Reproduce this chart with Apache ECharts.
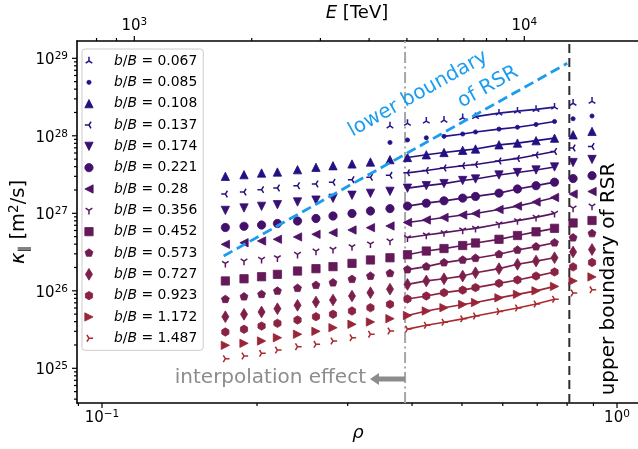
<!DOCTYPE html>
<html><head><meta charset="utf-8">
<script src="https://cdn.jsdelivr.net/npm/echarts/dist/echarts.min.js"></script>
<style>html,body{margin:0;padding:0;background:#fff}#c{width:638px;height:449px}</style>
</head><body><div id="c"></div>
<script>
// ---------------- data ----------------
const rho = [0.1736,0.1887,0.2041,0.2191,0.2397,0.2603,0.2809,0.3058,0.3321,0.3624,0.3919,0.4263,0.4614,0.5016,0.5312,0.5900,0.6408,0.6963,0.7563,0.8217,0.8943];
const bOverB = ['0.067','0.085','0.108','0.137','0.174','0.221','0.28','0.356','0.452','0.573','0.727','0.923','1.172','1.487'];
const N = null;
const kappa_0067 = [N,N,N,N,N,N,N,N,N,1.34e28,1.45e28,1.55e28,1.59e28,1.71e28,1.77e28,1.96e28,2.08e28,2.19e28,2.35e28,2.63e28,2.79e28];
const kappa_0085 = [N,N,N,N,N,N,N,N,N,8.20e27,8.83e27,9.42e27,9.85e27,1.055e28,1.12e28,1.22e28,1.29e28,1.40e28,1.53e28,1.66e28,1.80e28];
const kappa_0108 = [3.00e27,3.15e27,3.31e27,3.41e27,3.65e27,3.92e27,4.11e27,4.33e27,4.59e27,4.92e27,5.25e27,5.69e27,6.09e27,6.50e27,6.76e27,7.65e27,8.05e27,8.65e27,9.31e27,1.03e28,1.14e28];
const kappa_0137 = [1.77e27,1.88e27,2.02e27,2.12e27,2.27e27,2.39e27,2.51e27,2.71e27,2.91e27,3.09e27,3.33e27,3.57e27,3.84e27,4.11e27,4.26e27,4.73e27,5.10e27,5.65e27,6.27e27,6.96e27,7.28e27];
const kappa_0174 = [1.09e27,1.17e27,1.23e27,1.29e27,1.40e27,1.48e27,1.56e27,1.71e27,1.81e27,1.92e27,2.11e27,2.27e27,2.42e27,2.65e27,2.77e27,3.12e27,3.36e27,3.62e27,3.96e27,4.52e27,4.95e27];
const kappa_0221 = [6.56e26,6.80e26,7.06e26,7.39e26,7.95e26,8.57e26,9.23e26,9.94e26,1.07e27,1.15e27,1.24e27,1.35e27,1.45e27,1.57e27,1.65e27,1.82e27,2.06e27,2.27e27,2.52e27,2.81e27,3.06e27];
const kappa_0280 = [3.98e26,4.17e26,4.39e26,4.62e26,4.95e26,5.36e26,5.62e26,6.09e26,6.52e26,6.86e26,7.61e26,8.20e26,8.83e26,9.51e26,9.94e26,1.12e27,1.24e27,1.40e27,1.60e27,1.77e27,1.91e27];
const kappa_0356 = [2.26e26,2.42e26,2.55e26,2.67e26,2.96e26,3.26e26,3.43e26,3.71e26,4.02e26,4.39e26,4.84e26,5.25e26,5.62e26,6.09e26,6.40e26,7.28e26,8.03e26,8.88e26,1.00e27,1.17e27,1.24e27];
const kappa_0452 = [1.34e26,1.43e26,1.52e26,1.63e26,1.80e26,1.93e26,2.05e26,2.26e26,2.50e26,2.67e26,2.92e26,3.26e26,3.51e26,3.84e26,4.14e26,4.62e26,5.17e26,5.77e26,6.40e26,7.50e26,8.07e26];
const kappa_0573 = [7.77e25,8.39e25,9.01e25,9.94e25,1.08e26,1.18e26,1.27e26,1.41e26,1.55e26,1.68e26,1.88e26,2.05e26,2.31e26,2.50e26,2.63e26,2.96e26,3.36e26,3.71e26,4.17e26,4.84e26,5.49e26];
const kappa_0727 = [4.63e25,4.98e25,5.33e25,5.87e25,6.50e25,7.17e25,7.61e25,8.57e25,9.45e25,1.05e26,1.21e26,1.34e26,1.43e26,1.55e26,1.71e26,1.93e26,2.20e26,2.42e26,2.67e26,3.17e26,3.41e26];
const kappa_0923 = [2.94e25,3.19e25,3.51e25,3.81e25,4.20e25,4.63e25,4.98e25,5.49e25,6.05e25,6.70e25,7.84e25,8.57e25,9.45e25,1.02e26,1.10e26,1.25e26,1.38e26,1.55e26,1.75e26,2.03e26,2.32e26];
const kappa_1172 = [1.98e25,2.10e25,2.25e25,2.48e25,2.75e25,3.00e25,3.34e25,3.70e25,3.96e25,4.37e25,4.80e25,5.49e25,6.05e25,6.66e25,7.06e25,8.12e25,9.01e25,1.00e26,1.14e26,1.34e26,1.51e26];
const kappa_1487 = [1.33e25,1.44e25,1.56e25,1.72e25,1.90e25,2.04e25,2.25e25,2.48e25,2.75e25,3.03e25,3.21e25,3.59e25,3.93e25,4.35e25,4.73e25,5.41e25,6.00e25,6.76e25,7.77e25,9.37e25,1.03e26];
// index of the first / last point joined by a line (inside the RSR)
const lineFrom = [14,12,10,10,10,10,10,10,10,10,10,10,10,10];
const lineTo = 18;
// boundaries
const interpRho = 0.3877;
const upperRSRRho = 0.808;
const lowerRSRRho = [0.1723, 0.8006];
const lowerRSRKappa = [2.81e26, 8.62e28];
// annotation arrow (data coords)
const arrowRho = [0.3314, 0.3877];
const arrowKappa = 7.28e24;
// axis ranges & ticks
const rhoRange = [0.08943, 1.0984];
const kappaRange = [3.567e24, 1.672e29];
const eRange = [712.9, 19566];
const rhoMajor = [0.1, 1];
const rhoMinor = [0.09,0.2,0.3,0.4,0.5,0.6,0.7,0.8,0.9];
const eMajor = [1e3, 1e4];
const eMinor = [800,900,2000,3000,4000,5000,6000,7000,8000,9000];
const kMajor = [1e25,1e26,1e27,1e28,1e29];
const kMinor = [4e24,5e24,6e24,7e24,8e24,9e24,2e25,3e25,4e25,5e25,6e25,7e25,8e25,9e25,2e26,3e26,4e26,5e26,6e26,7e26,8e26,9e26,
                2e27,3e27,4e27,5e27,6e27,7e27,8e27,9e27,2e28,3e28,4e28,5e28,6e28,7e28,8e28,9e28];

const kappaAll = [kappa_0067,kappa_0085,kappa_0108,kappa_0137,kappa_0174,kappa_0221,kappa_0280,kappa_0356,kappa_0452,kappa_0573,kappa_0727,kappa_0923,kappa_1172,kappa_1487];

// ---------------- style ----------------
const colors = ['#23188c','#22128a','#250f82','#2d0f7a','#380f72','#43116b','#4e1366','#591660','#641959','#6f1c52','#7c1f4a','#8a2242','#992538','#aa2a2e'];
const F = 'path://M-15 -15 M15 15 ';
const markers = [
  F+'M0 0 L0 -10 M0 0 L8 5 M0 0 L-8 5',                         // tri_up
  F+'M-5 0 A5 5 0 1 0 5 0 A5 5 0 1 0 -5 0 Z',                   // point
  F+'M0 -10 L10 10 L-10 10 Z',                                   // ^
  F+'M0 0 L-10 0 M0 0 L5 8 M0 0 L5 -8',                          // tri_left
  F+'M0 10 L10 -10 L-10 -10 Z',                                  // v
  F+'M-10 0 A10 10 0 1 0 10 0 A10 10 0 1 0 -10 0 Z',             // o
  F+'M-10 0 L10 -10 L10 10 Z',                                   // <
  F+'M0 0 L0 10 M0 0 L8 -5 M0 0 L-8 -5',                         // tri_down
  F+'M-10 -10 L10 -10 L10 10 L-10 10 Z',                         // s
  F+'M0 -10 L9.51 -3.09 L5.88 8.09 L-5.88 8.09 L-9.51 -3.09 Z',  // p
  F+'M0 -14.14 L8.49 0 L0 14.14 L-8.49 0 Z',                     // d
  F+'M0 -10 L8.66 -5 L8.66 5 L0 10 L-8.66 5 L-8.66 -5 Z',        // h
  F+'M10 0 L-10 -10 L-10 10 Z',                                  // >
  F+'M0 0 L10 0 M0 0 L-5 -8 M0 0 L-5 8'                          // tri_right
];
const isTri = [true,false,false,true,false,false,false,true,false,false,false,false,false,true];
const SYM = 12.45;
const FONT = 'DejaVu Sans';

const names = bOverB.map(v => 'b/B = ' + v);
const series = [];
kappaAll.forEach((arr, s) => {
  const c = colors[s];
  const pts = [], linePts = [];
  rho.forEach((r, i) => {
    if (arr[i] == null) return;
    pts.push([r, arr[i]]);
    if (i >= lineFrom[s] && i <= lineTo) linePts.push([r, arr[i]]);
  });
  series.push({type:'line', data: linePts, showSymbol:false, symbol:'none', silent:true, z:2,
    lineStyle:{color:c, width:1.7}, animation:false});
  series.push({type:'scatter', name: names[s], data: pts, symbol: markers[s], symbolSize: SYM, z:3,
    itemStyle:{color: isTri[s] ? 'rgba(0,0,0,0)' : c, borderColor:c, borderWidth: isTri[s] ? 1.5 : 0.8, opacity:1},
    animation:false});
});

// boundary lines
series.push({type:'line', data:[[interpRho, kappaRange[0]],[interpRho, kappaRange[1]]], symbol:'none', silent:true, z:1,
  lineStyle:{color:'#a6a6a6', width:2, type:[11,3.5,2,3.5]}, animation:false});
series.push({type:'line', data:[[upperRSRRho, kappaRange[0]],[upperRSRRho, kappaRange[1]]], symbol:'none', silent:true, z:1,
  lineStyle:{color:'#2e2e2e', width:2, type:[9,5]}, animation:false});
series.push({type:'line', data:[[lowerRSRRho[0], lowerRSRKappa[0]],[lowerRSRRho[1], lowerRSRKappa[1]]], symbol:'none', silent:true, z:4,
  lineStyle:{color:'#1a9cf0', width:2.8, type:[10,5]}, animation:false});

// ticks
function tickSeries(xIdx, data, side) {
  return {type:'custom', xAxisIndex:xIdx, yAxisIndex:0, data, clip:false, silent:true, z:6, animation:false,
    renderItem(params, api) {
      const p = api.coord([api.value(0), api.value(1)]);
      const L = api.value(2);
      let shape;
      if (side === 'bottom') shape = {x1:p[0], y1:p[1], x2:p[0], y2:p[1]+L};
      else if (side === 'top') shape = {x1:p[0], y1:p[1], x2:p[0], y2:p[1]-L};
      else shape = {x1:p[0], y1:p[1], x2:p[0]-L, y2:p[1]};
      return {type:'line', shape, style:{stroke:'#000', lineWidth:1.2}};
    }};
}
series.push(tickSeries(0, rhoMajor.map(v=>[v, kappaRange[0], 5]).concat(rhoMinor.map(v=>[v, kappaRange[0], 3])), 'bottom'));
series.push(tickSeries(1, eMajor.map(v=>[v, kappaRange[1], 5]).concat(eMinor.map(v=>[v, kappaRange[1], 3])), 'top'));
series.push(tickSeries(0, kMajor.map(v=>[rhoRange[0], v, 5]).concat(kMinor.map(v=>[rhoRange[0], v, 3])), 'left'));

// annotation arrow drawn as a custom series in data coordinates
series.push({type:'custom', xAxisIndex:0, yAxisIndex:0, data:[[arrowRho[0], arrowKappa, arrowRho[1]]], clip:false, silent:true, z:7, animation:false,
  renderItem(params, api) {
    const h = api.coord([api.value(0), api.value(1)]);
    const t = api.coord([api.value(2), api.value(1)]);
    const ax0 = h[0], ax1 = t[0], ay = h[1];
    return {type:'polygon', shape:{points:[
      [ax0, ay], [ax0+9, ay-6], [ax0+9, ay-2.6], [ax1, ay-2.6], [ax1, ay+2.6], [ax0+9, ay+2.6], [ax0+9, ay+6]
    ]}, style:{fill:'#8c8c8c'}};
  }});

function powLabel(v) {
  const l = Math.log10(v), e = Math.round(l);
  if (Math.abs(l - e) > 1e-6) return '';
  return '{b|10}{s|' + (e < 0 ? '\u2212' + (-e) : e) + '}';
}
const labelRich = {
  b:{fontFamily:FONT, fontSize:15, color:'#000', padding:[4,0,0,0], lineHeight:15},
  s:{fontFamily:FONT, fontSize:10.5, color:'#000', verticalAlign:'top', lineHeight:11}
};
const axisCommon = {
  type:'log', logBase:10, splitLine:{show:false}, axisTick:{show:false}, minorTick:{show:false}, minorSplitLine:{show:false},
  axisLine:{show:true, lineStyle:{color:'#000', width:1.6}}
};

const chart = echarts.init(document.getElementById('c'), null, {renderer:'canvas'});
const option = {
  animation:false,
  backgroundColor:'#fff',
  grid:{left:77, top:41, width:561, height:362, containLabel:false},
  xAxis:[
    Object.assign({}, axisCommon, {position:'bottom', min:rhoRange[0], max:rhoRange[1],
      axisLabel:{formatter:powLabel, rich:labelRich, margin:6, showMinLabel:false, showMaxLabel:false}}),
    Object.assign({}, axisCommon, {position:'top', min:eRange[0], max:eRange[1],
      axisLabel:{formatter:powLabel, rich:labelRich, margin:9, showMinLabel:false, showMaxLabel:false}})
  ],
  yAxis:[
    Object.assign({}, axisCommon, {position:'left', min:kappaRange[0], max:kappaRange[1],
      axisLabel:{formatter:powLabel, rich:labelRich, margin:9, showMinLabel:false, showMaxLabel:false}})
  ],
  legend:{
    orient:'vertical', left:82, top:49, padding:[5,6,5,0], itemGap:7.33, itemWidth:40, itemHeight:SYM,
    backgroundColor:'rgba(255,255,255,0.8)', borderColor:'#cccccc', borderWidth:1, borderRadius:3,
    selectedMode:false, z:20,
    data: names.map((n,i)=>({name:n, icon:markers[i],
      itemStyle:{color: isTri[i] ? 'rgba(0,0,0,0)' : colors[i], borderColor:colors[i], borderWidth: isTri[i] ? 1.5 : 0.8}})),
    formatter: n => '{i|b}/{i|B} = ' + n.split('= ')[1],
    textStyle:{fontFamily:FONT, fontSize:13.9, color:'#000', lineHeight:14,
      rich:{i:{fontFamily:FONT, fontSize:13.9, fontStyle:'italic', color:'#000', lineHeight:14}}}
  },
  series,
  graphic:[
    {type:'text', id:'tE', z:10, x:357, y:13, style:{text:'{i|E} [TeV]', x:0, y:0, align:'center', verticalAlign:'middle',
      font:'18px "DejaVu Sans"', fill:'#000', rich:{i:{fontFamily:FONT, fontSize:18, fontStyle:'italic'}}}},
    {type:'text', id:'tRho', z:10, x:358, y:433, style:{text:'{i|ρ}', x:0, y:0, align:'center', verticalAlign:'middle',
      font:'18px "DejaVu Sans"', fill:'#000', rich:{i:{fontFamily:FONT, fontSize:18, fontStyle:'italic'}}}},
    {type:'text', id:'tK', z:10, x:19, y:222, rotation:Math.PI/2, style:{text:'{i|κ}{sub|∥} [m{sup|2}/s]', x:0, y:0, align:'center', verticalAlign:'middle',
      font:'19.5px "DejaVu Sans"', fill:'#000',
      rich:{i:{fontFamily:FONT, fontSize:19.5, fontStyle:'italic', lineHeight:24},
            sub:{fontFamily:FONT, fontSize:13.5, verticalAlign:'bottom', lineHeight:13},
            sup:{fontFamily:FONT, fontSize:13.5, verticalAlign:'top', lineHeight:13}}}},
    {type:'text', id:'tL1', z:10, x:418, y:94, rotation:29.3*Math.PI/180, style:{text:'lower boundary', x:0, y:0, align:'center', verticalAlign:'middle',
      font:'20px "DejaVu Sans"', fill:'#1a9cf0'}},
    {type:'text', id:'tL2', z:10, x:488, y:87, rotation:29.3*Math.PI/180, style:{text:'of RSR', x:0, y:0, align:'center', verticalAlign:'middle',
      font:'20px "DejaVu Sans"', fill:'#1a9cf0'}},
    {type:'text', id:'tU', z:10, x:609, y:279, rotation:Math.PI/2, style:{text:'upper boundary of RSR', x:0, y:0, align:'center', verticalAlign:'middle',
      font:'20px "DejaVu Sans"', fill:'#000'}},
    {type:'text', id:'tI', z:10, x:366, y:378, style:{text:'interpolation effect', x:0, y:0, align:'right', verticalAlign:'middle',
      font:'20px "DejaVu Sans"', fill:'#8c8c8c'}}
  ]
};
chart.setOption(option);
</script>
</body></html>
